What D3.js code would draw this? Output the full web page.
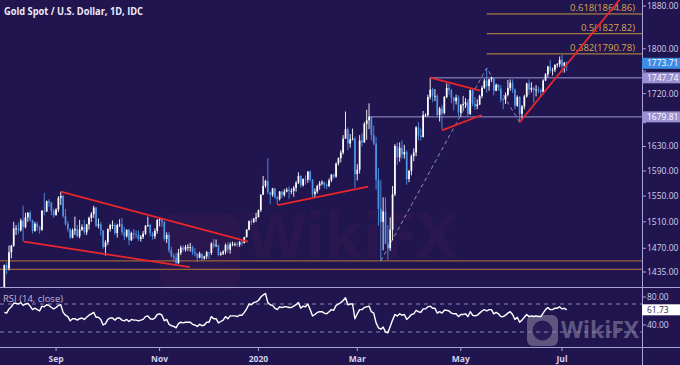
<!DOCTYPE html>
<html>
<head>
<meta charset="utf-8">
<script src="https://cdn.jsdelivr.net/npm/d3@7"></script>
<style>
  html, body { margin: 0; padding: 0; background: #21154f; overflow: hidden; }
</style>
</head>
<body>
<div id="chart"></div>
<script>
// daily bars, 1 Aug 2019 .. 3 Jul 2020 (one line per month)
var opens = [
  1413,1445,1440,1464,1474,1500,1500,1497,1512,1502,1517,1524,1513,1496,1507,1502,1498,1527,1526,1542,1540,1527,
  1520,1529,1547,1550,1519,1507,1499,1486,1497,1499,1488,1498,1502,1494,1506,1516,1522,1532,1504,1506,1497,
  1472,1479,1499,1505,1505,1493,1505,1506,1494,1488,1498,1482,1493,1491,1490,1484,1487,1492,1504,1505,1493,1488,1496,
  1513,1514,1510,1484,1490,1467,1459,1456,1448,1463,1471,1468,1472,1472,1472,1464,1462,1456,1462,1455,1458,
  1464,1463,1477,1474,1474,1460,1462,1465,1475,1468,1476,1476,1476,1475,1479,1478,1487,1498,1511,1510,1515,
  1517,1528,1552,1566,1574,1556,1552,1562,1548,1545,1557,1552,1557,1560,1558,1558,1563,1571,1582,1567,1577,1576,
  1589,1576,1553,1557,1566,1570,1572,1568,1566,1575,1584,1581,1602,1611,1620,1643,1659,1635,1642,1643,
  1585,1592,1640,1637,1668,1674,1680,1649,1635,1576,1530,1510,1526,1477,1470,1498,1553,1631,1612,1628,1617,1621,
  1577,1590,1614,1620,1662,1648,1646,1683,1683,1714,1727,1716,1716,1683,1694,1686,1714,1730,1726,1713,1707,1713,
  1687,1700,1702,1705,1685,1726,1702,1698,1701,1716,1730,1743,1733,1745,1747,1725,1735,1729,1710,1709,1718,
  1730,1739,1727,1699,1714,1685,1698,1715,1738,1727,1730,1726,1727,1726,1723,1743,1754,1768,1761,1762,1771,1772,
  1780,1769,1775
];
var highs = [
  1446,1449,1474,1475,1510,1505,1509,1515,1535,1524,1525,1527,1513,1510,1510,1504,1528,1555,1543,1545,1540,1530,
  1531,1550,1557,1552,1530,1511,1500,1500,1518,1505,1513,1506,1513,1507,1518,1525,1535,1533,1515,1510,1497,
  1482,1500,1507,1512,1508,1507,1514,1516,1502,1498,1499,1495,1499,1497,1497,1490,1496,1505,1518,1507,1495,1500,1514,
  1517,1515,1511,1494,1494,1472,1462,1463,1469,1474,1474,1475,1476,1478,1474,1470,1463,1465,1462,1459,1466,
  1464,1479,1484,1483,1476,1465,1467,1477,1479,1479,1480,1479,1479,1481,1481,1487,1499,1512,1514,1516,1524,
  1529,1553,1582,1576,1611,1557,1563,1563,1550,1558,1558,1561,1563,1565,1562,1566,1574,1588,1583,1578,1583,1590,
  1591,1577,1562,1568,1574,1575,1573,1570,1578,1585,1586,1604,1612,1624,1649,1689,1662,1651,1660,1646,
  1601,1649,1652,1671,1692,1703,1681,1665,1646,1595,1575,1548,1548,1505,1517,1566,1634,1637,1637,1640,1633,1624,
  1592,1617,1627,1664,1671,1660,1690,1686,1718,1748,1730,1728,1719,1697,1700,1716,1738,1737,1728,1714,1718,1717,
  1702,1716,1712,1710,1727,1728,1714,1710,1718,1734,1746,1765,1746,1750,1748,1737,1737,1735,1713,1722,1744,
  1745,1745,1729,1717,1716,1700,1718,1739,1745,1740,1732,1735,1732,1729,1745,1756,1769,1780,1766,1772,1774,1786,
  1789,1776,1777
];
var lows = [
  1400,1432,1437,1455,1472,1490,1492,1495,1480,1500,1510,1510,1492,1495,1496,1492,1496,1520,1525,1533,1520,1516,
  1520,1525,1536,1516,1504,1495,1484,1485,1490,1486,1485,1496,1490,1490,1498,1510,1516,1502,1500,1489,1469,
  1459,1475,1495,1499,1490,1486,1502,1490,1482,1486,1475,1481,1484,1485,1481,1480,1484,1490,1502,1488,1483,1484,1492,
  1503,1502,1481,1478,1463,1456,1450,1445,1447,1460,1465,1465,1466,1465,1460,1458,1450,1455,1451,1453,1454,
  1454,1460,1470,1472,1458,1459,1460,1461,1463,1462,1473,1473,1472,1472,1474,1477,1486,1497,1505,1508,1510,
  1517,1525,1552,1563,1553,1537,1549,1546,1536,1543,1547,1549,1556,1546,1553,1549,1557,1569,1563,1565,1568,1571,
  1573,1548,1548,1554,1560,1567,1562,1561,1564,1572,1578,1579,1599,1604,1617,1643,1624,1628,1640,1563,
  1575,1586,1630,1636,1641,1659,1640,1632,1560,1504,1451,1467,1476,1453,1466,1482,1550,1600,1605,1610,1610,1568,
  1572,1583,1606,1614,1640,1640,1645,1680,1680,1710,1705,1707,1680,1672,1659,1684,1712,1718,1703,1691,1701,1681,
  1680,1691,1695,1681,1683,1698,1692,1693,1700,1712,1728,1722,1725,1740,1717,1724,1725,1705,1693,1702,1715,
  1725,1721,1693,1697,1670,1676,1693,1713,1718,1722,1704,1715,1721,1714,1722,1742,1749,1757,1752,1758,1766,1767,
  1757,1757,1760
];
var closes = [
  1445,1440,1464,1474,1500,1500,1497,1512,1502,1517,1524,1513,1496,1507,1502,1498,1527,1526,1542,1540,1527,1520,
  1529,1547,1550,1519,1507,1499,1486,1497,1499,1488,1498,1502,1494,1506,1516,1522,1532,1504,1506,1497,1472,
  1479,1499,1505,1505,1493,1505,1506,1494,1488,1498,1482,1493,1491,1490,1484,1487,1492,1504,1505,1493,1488,1496,1513,
  1514,1510,1484,1490,1467,1459,1456,1448,1463,1471,1468,1472,1472,1472,1464,1462,1456,1462,1455,1458,1464,
  1463,1477,1474,1474,1460,1462,1465,1475,1468,1476,1476,1476,1475,1479,1478,1487,1498,1511,1510,1515,1517,
  1528,1552,1566,1574,1556,1552,1562,1548,1545,1557,1552,1557,1560,1558,1558,1563,1571,1582,1567,1577,1576,1589,
  1576,1553,1557,1566,1570,1572,1568,1566,1575,1584,1581,1602,1611,1620,1643,1659,1635,1642,1643,1585,
  1592,1640,1637,1668,1674,1680,1649,1635,1576,1530,1510,1526,1477,1470,1498,1553,1631,1612,1628,1617,1621,1577,
  1590,1614,1620,1662,1648,1646,1683,1683,1714,1727,1716,1716,1683,1694,1686,1714,1730,1726,1713,1707,1713,1687,
  1700,1702,1705,1685,1726,1702,1698,1701,1716,1730,1743,1733,1745,1747,1725,1735,1729,1710,1709,1718,1730,
  1739,1727,1699,1714,1685,1698,1715,1738,1727,1730,1726,1727,1726,1723,1743,1754,1768,1761,1762,1771,1772,1780,
  1769,1775,1773.71
];
// RSI(14, close)
var rsiValues = [
  58,57,63,66,71,71,70,72,68,70,71,67,62,64,62,60,67,66,69,68,65,63,
  65,68,69,58,54,52,46,49,49,47,49,50,48,51,54,56,58,51,51,48,40,
  42,48,50,50,47,50,50,47,46,48,45,48,47,47,46,47,48,52,53,49,48,50,55,
  56,54,46,48,41,39,38,36,42,44,43,44,44,44,41,40,38,41,39,40,44,
  44,52,49,49,43,45,47,52,49,53,53,53,52,54,54,58,63,70,69,72,73,
  75,80,83,85,72,69,68,64,62,66,65,66,66,65,65,67,69,72,64,67,66,70,
  62,53,55,58,59,59,57,56,59,62,61,68,70,72,75,79,69,70,70,49,
  56,62,62,65,66,67,59,57,43,36,34,37,30,29,38,47,55,53,56,54,55,48,
  51,55,56,61,59,58,63,63,66,67,64,64,57,59,57,61,61,60,57,56,56,52,
  55,55,56,52,59,54,53,54,57,60,62,60,62,62,56,58,56,52,52,54,57,
  59,55,48,51,44,47,51,55,52,53,52,53,52,52,57,62,65,62,62,64,64,66,
  63,64,61.73
];

var firstDay = "2019-08-01";
var holidays = ["2019-12-25", "2020-01-01"];

var priceTicks = [1880, 1800, 1760, 1720, 1670, 1630, 1590, 1550, 1510, 1470, 1435];
var hiddenTicks = [1760, 1670]; // covered by the value boxes
var rsiTicks = [80, 40];
var rsiBands = [70, 30];
var tickMonths = ["2019-09", "2019-11", "2020-01", "2020-03", "2020-05", "2020-07"];
var tickLabels = ["Sep", "Nov", "2020", "Mar", "May", "Jul"];

// drawings: [bar index, price]
var trendLines = [
  [[24, 1557], [103.6, 1480]],
  [[8.4, 1480], [78.9, 1442]],
  [[116.3, 1536], [154.6, 1565]],
  [[181, 1748], [202.2, 1725]],
  [[186, 1657], [202.9, 1683]],
  [[219, 1670.7], [262, 1895]]
];
var fibPoints = [[160, 1451.2], [205, 1765.4], [219, 1670.7]];
var fibRatios = ["0.382", "0.5", "0.618"];
var fibValues = [1790.78, 1827.82, 1864.86];
var levelPrices = [1747.74, 1679.81];
var levelStart = [181, 155];
var supportPrices = [1451.4, 1438.9];
var lastPrice = 1773.71;
var lastRsi = 61.73;

var titleText = "Gold Spot / U.S. Dollar, 1D, IDC";

// trading-day calendar
var dates = [];
var dd = new Date(firstDay + "T00:00:00Z");
while (dates.length < closes.length) {
  var s = dd.toISOString().slice(0, 10);
  var wd = dd.getUTCDay();
  if (wd !== 0 && wd !== 6 && holidays.indexOf(s) < 0) dates.push(s);
  dd.setUTCDate(dd.getUTCDate() + 1);
}

drawChart();

function drawChart() {
  var W = 680, H = 365;
  var axisX = 642, priceBottom = 287, rsiBottom = 347;
  var bg = "#21154f", frame = "#aaa3d8", txt = "#d4d0ec";
  var font = "'Open Sans', 'DejaVu Sans', sans-serif";
  var fmt = d3.format(".2f");

  var x = d3.scaleLinear().domain([0, closes.length - 1]).range([4.3, 566.7]);
  var y = d3.scaleLog().domain([1413.3, 1891.5]).range([priceBottom, 0]);
  var yr = d3.scaleLinear().domain([8.6, 94.3]).range([rsiBottom, priceBottom]);

  var svg = d3.select("#chart").append("svg")
    .attr("width", W).attr("height", H)
    .style("font-family", font);

  svg.append("rect").attr("width", W).attr("height", H).attr("fill", bg);

  var defs = svg.append("defs");
  defs.append("clipPath").attr("id", "clipPrice").append("rect")
    .attr("x", 0).attr("y", 0).attr("width", axisX).attr("height", priceBottom);
  defs.append("clipPath").attr("id", "clipRsi").append("rect")
    .attr("x", 0).attr("y", priceBottom).attr("width", axisX).attr("height", rsiBottom - priceBottom);

  // watermarks
  var wm = svg.append("g").attr("opacity", 0.05);
  wm.append("rect").attr("x", 160).attr("y", 213).attr("width", 80).attr("height", 78).attr("rx", 14)
    .attr("fill", "#d0405a");
  wm.append("text").attr("x", 246).attr("y", 258).attr("font-size", 62).attr("font-weight", 700)
    .attr("fill", "#d0405a").text("WikiFX");

  // bottom-right mark, kept left of the axis labels
  var wm2 = svg.append("g").attr("opacity", 0.28);
  wm2.append("rect").attr("x", 527).attr("y", 315).attr("width", 31).attr("height", 31).attr("rx", 6)
    .attr("fill", "#ffffff");
  wm2.append("circle").attr("cx", 542.5).attr("cy", 330.5).attr("r", 10).attr("fill", "#3a2c6e");
  wm2.append("text").attr("x", 561).attr("y", 338).attr("font-size", 23).attr("font-weight", 700)
    .attr("textLength", 78).attr("lengthAdjust", "spacingAndGlyphs")
    .attr("fill", "#ffffff").text("WikiFX");

  // title
  svg.append("text").attr("x", 4).attr("y", 15)
    .attr("font-size", 10).attr("font-weight", 700).attr("fill", "#eeeaf8")
    .attr("textLength", 139).attr("lengthAdjust", "spacingAndGlyphs")
    .text(titleText);

  var price = svg.append("g").attr("clip-path", "url(#clipPrice)");

  // support band lines
  price.selectAll(".support").data(supportPrices).enter().append("line")
    .attr("x1", 0).attr("x2", axisX)
    .attr("y1", function(d) { return y(d); }).attr("y2", function(d) { return y(d); })
    .attr("stroke", "#9a6338").attr("stroke-width", 1.2);

  // horizontal levels
  price.selectAll(".level").data(levelPrices).enter().append("line")
    .attr("x1", function(d, i) { return x(levelStart[i]); }).attr("x2", axisX)
    .attr("y1", function(d) { return y(d); }).attr("y2", function(d) { return y(d); })
    .attr("stroke", "#9d96cc").attr("stroke-width", 1);

  // fib levels
  price.selectAll(".fib").data(fibValues).enter().append("line")
    .attr("x1", x(fibPoints[1][0])).attr("x2", axisX)
    .attr("y1", function(d) { return y(d); }).attr("y2", function(d) { return y(d); })
    .attr("stroke", "#c8963e").attr("stroke-width", 1);
  price.selectAll(".fibtxt").data(fibValues).enter().append("text")
    .attr("x", 635).attr("y", function(d) { return y(d) - 2.5; })
    .attr("text-anchor", "end").attr("font-size", 9.5).attr("fill", "#d9a64d")
    .text(function(d, i) { return fibRatios[i] + "(" + fmt(d) + ")"; });

  // dashed fib construction line
  price.append("path")
    .attr("d", d3.line().x(function(d) { return x(d[0]); }).y(function(d) { return y(d[1]); })(fibPoints))
    .attr("fill", "none").attr("stroke", "#8f8ab5").attr("stroke-width", 1)
    .attr("stroke-dasharray", "4,3");

  // candles
  var bw = 1.7;
  var candle = price.selectAll(".candle").data(closes).enter().append("g");
  function ccol(d, i) { return d >= opens[i] ? "#ffffff" : "#4f93e6"; }
  candle.append("line")
    .attr("x1", function(d, i) { return x(i); }).attr("x2", function(d, i) { return x(i); })
    .attr("y1", function(d, i) { return y(highs[i]); })
    .attr("y2", function(d, i) { return y(lows[i]); })
    .attr("stroke", ccol).attr("stroke-width", 0.9);
  candle.append("rect")
    .attr("x", function(d, i) { return x(i) - bw / 2; })
    .attr("width", bw)
    .attr("y", function(d, i) { return y(Math.max(d, opens[i])); })
    .attr("height", function(d, i) { return Math.max(0.8, Math.abs(y(opens[i]) - y(d))); })
    .attr("fill", ccol);

  // trend lines
  price.selectAll(".trend").data(trendLines).enter().append("line")
    .attr("x1", function(d) { return x(d[0][0]); }).attr("y1", function(d) { return y(d[0][1]); })
    .attr("x2", function(d) { return x(d[1][0]); }).attr("y2", function(d) { return y(d[1][1]); })
    .attr("stroke", "#e8262b").attr("stroke-width", 1.8);

  // RSI pane
  var rsi = svg.append("g").attr("clip-path", "url(#clipRsi)");
  rsi.selectAll(".band").data(rsiBands).enter().append("line")
    .attr("x1", 0).attr("x2", axisX)
    .attr("y1", function(d) { return yr(d); }).attr("y2", function(d) { return yr(d); })
    .attr("stroke", "#8c86b8").attr("stroke-width", 1).attr("stroke-dasharray", "4,4");
  rsi.append("path")
    .attr("d", d3.line().x(function(d, i) { return x(i); }).y(function(d) { return yr(d); })(rsiValues))
    .attr("fill", "none").attr("stroke", "#ffffff").attr("stroke-width", 1.4)
    .attr("stroke-linejoin", "round");
  svg.append("text").attr("x", 3).attr("y", 302)
    .attr("font-size", 9).attr("fill", "#bdb8dc")
    .attr("textLength", 60).attr("lengthAdjust", "spacingAndGlyphs")
    .text("RSI (14, close)");

  // frame lines
  svg.append("line").attr("x1", 0).attr("x2", W).attr("y1", priceBottom + 0.5).attr("y2", priceBottom + 0.5)
    .attr("stroke", frame).attr("stroke-width", 1);
  svg.append("line").attr("x1", 0).attr("x2", W).attr("y1", rsiBottom + 0.5).attr("y2", rsiBottom + 0.5)
    .attr("stroke", frame).attr("stroke-width", 1);
  svg.append("line").attr("x1", axisX + 0.5).attr("x2", axisX + 0.5).attr("y1", 0).attr("y2", H)
    .attr("stroke", frame).attr("stroke-width", 1);

  // price axis (ticks under the value boxes keep only their tick mark)
  var pAxis = svg.append("g");
  pAxis.selectAll("line").data(priceTicks).enter().append("line")
    .attr("x1", axisX).attr("x2", axisX + 4)
    .attr("y1", function(d) { return y(d); }).attr("y2", function(d) { return y(d); })
    .attr("stroke", frame);
  pAxis.selectAll("text")
    .data(priceTicks.filter(function(d) { return hiddenTicks.indexOf(d) < 0; }))
    .enter().append("text")
    .attr("x", axisX + 5).attr("y", function(d) { return y(d); }).attr("dy", "0.35em")
    .attr("font-size", 8.5).attr("fill", txt).text(fmt);

  // rsi axis
  var rAxis = svg.append("g");
  rAxis.selectAll("line").data(rsiTicks).enter().append("line")
    .attr("x1", axisX).attr("x2", axisX + 4)
    .attr("y1", function(d) { return yr(d); }).attr("y2", function(d) { return yr(d); })
    .attr("stroke", frame);
  rAxis.selectAll("text").data(rsiTicks).enter().append("text")
    .attr("x", axisX + 5).attr("y", function(d) { return yr(d); }).attr("dy", "0.35em")
    .attr("font-size", 8.5).attr("fill", txt).text(fmt);

  // value boxes
  var boxes = [
    { v: lastPrice, yy: y(lastPrice), bg: "#3d8de6", fg: "#ffffff" },
    { v: levelPrices[0], yy: y(levelPrices[0]), bg: "#9a90d2", fg: "#ffffff" },
    { v: levelPrices[1], yy: y(levelPrices[1]), bg: "#9a90d2", fg: "#ffffff" },
    { v: lastRsi, yy: yr(lastRsi), bg: "#ffffff", fg: "#2a2250" }
  ];
  var box = svg.selectAll(".box").data(boxes).enter().append("g");
  box.append("rect").attr("x", axisX).attr("width", W - axisX)
    .attr("y", function(d) { return d.yy - 5.5; }).attr("height", 11)
    .attr("fill", function(d) { return d.bg; });
  box.append("text").attr("x", axisX + 5).attr("y", function(d) { return d.yy; }).attr("dy", "0.35em")
    .attr("font-size", 8.5).attr("fill", function(d) { return d.fg; })
    .text(function(d) { return fmt(d.v); });

  // date axis
  var monthIdx = tickMonths.map(function(m) {
    for (var i = 0; i < dates.length; i++) if (dates[i].slice(0, 7) === m) return i;
    return -1;
  });
  var dAxis = svg.append("g");
  dAxis.selectAll("line").data(monthIdx).enter().append("line")
    .attr("x1", function(d) { return x(d); }).attr("x2", function(d) { return x(d); })
    .attr("y1", rsiBottom).attr("y2", rsiBottom + 4)
    .attr("stroke", frame);
  dAxis.selectAll("text").data(monthIdx).enter().append("text")
    .attr("x", function(d) { return x(d); }).attr("y", 362)
    .attr("text-anchor", "middle").attr("font-size", 8.5).attr("font-weight", 700)
    .attr("fill", txt)
    .text(function(d, i) { return tickLabels[i]; });
}
</script>
</body>
</html>
